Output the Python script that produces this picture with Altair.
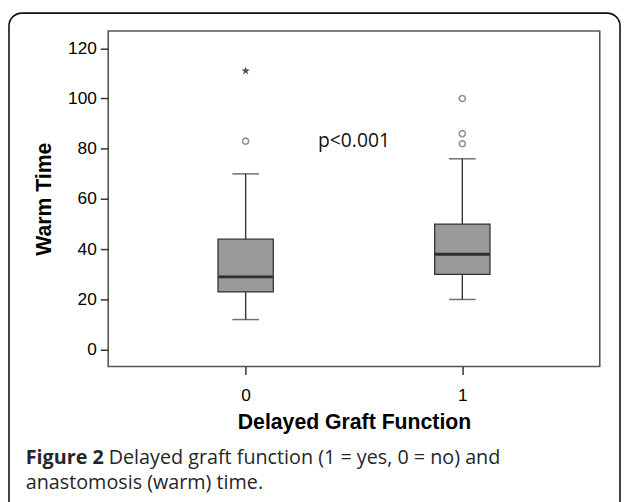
import altair as alt
import pandas as pd

# ---- data ----
groups = [0, 1]
whisker_low = [12, 20]
q1 = [23, 30]
median = [29, 38]
q3 = [44, 50]
whisker_high = [70, 76]

outlier_group = [0, 1, 1, 1]
outlier_value = [83, 100, 86, 82]

extreme_group = [0]
extreme_value = [111]

annotation_text = ["p<0.001"]
annotation_x = [0.5]
annotation_y = [83]

caption_bold = ["Figure 2"]
caption_line1 = ["Delayed graft function (1 = yes, 0 = no) and"]
caption_line2 = ["anastomosis (warm) time."]

box_df = pd.DataFrame({"g": groups, "lo": whisker_low, "q1": q1, "med": median,
                       "q3": q3, "hi": whisker_high})
out_df = pd.DataFrame({"g": outlier_group, "v": outlier_value})
ext_df = pd.DataFrame({"g": extreme_group, "v": extreme_value})
ann_df = pd.DataFrame({"g": annotation_x, "v": annotation_y, "t": annotation_text})

STAR = ("M0,-1L0.2245,-0.309L0.951,-0.309L0.363,0.118L0.588,0.809L0,0.382"
        "L-0.588,0.809L-0.363,0.118L-0.951,-0.309L-0.2245,-0.309Z")

xscale = alt.Scale(domain=[-0.6116, 1.6116], nice=False, zero=False)
yscale = alt.Scale(domain=[-6.7, 126.9], nice=False, zero=False)

X_axis = alt.Axis(values=[0, 1], format="d", title="Delayed Graft Function",
                  grid=False, labelFontSize=17.5, titleFontSize=21.5,
                  titleFontWeight="bold", tickSize=8, labelPadding=12,
                  titlePadding=8, domain=False, tickColor="#333",
                  labelColor="#000", titleColor="#000", tickWidth=1.5,
                  orient="bottom")
Y_axis = alt.Axis(values=[0, 20, 40, 60, 80, 100, 120], title="Warm Time",
                  grid=False, labelFontSize=17.5, titleFontSize=21.5,
                  titleFontWeight="bold", tickSize=8, labelPadding=4,
                  titlePadding=12, domain=False, tickColor="#333",
                  labelColor="#000", titleColor="#000", tickWidth=1.5,
                  orient="left")

def xenc(f="g"):
    return alt.X(f + ":Q", scale=xscale, axis=X_axis)

def yenc(f):
    return alt.Y(f + ":Q", scale=yscale, axis=Y_axis)

base = alt.Chart(box_df)

whisk = base.mark_rule(color="#333", strokeWidth=1.4).encode(
    x=xenc(), y=yenc("lo"), y2="hi:Q")
caps_lo = base.mark_tick(orient="horizontal", color="#333", size=27, thickness=1.5).encode(
    x=xenc(), y=yenc("lo"))
caps_hi = base.mark_tick(orient="horizontal", color="#333", size=27, thickness=1.5).encode(
    x=xenc(), y=yenc("hi"))
box = base.mark_bar(size=56, color="#999999", stroke="#333", strokeWidth=1.3).encode(
    x=xenc(), y=yenc("q1"), y2="q3:Q")
med = base.mark_tick(orient="horizontal", color="#000", size=55, thickness=3).encode(
    x=xenc(), y=yenc("med"))

outl = alt.Chart(out_df).mark_point(shape="circle", filled=False, color="#666",
                                    size=38, strokeWidth=1.6).encode(
    x=xenc(), y=yenc("v"))
ext = alt.Chart(ext_df).mark_point(shape=STAR, filled=True, color="#000", size=80).encode(
    x=xenc(), y=yenc("v"))

ann = alt.Chart(ann_df).mark_text(font="Open Sans", fontSize=19.5, color="#111",
                                  align="center", baseline="middle").encode(
    x=xenc(), y=yenc("v"), text="t:N")

# outer rounded figure frame (decoration)
frame = alt.Chart(pd.DataFrame({"a": [0]})).mark_rect(
    fill=None, stroke="#111", strokeWidth=1.6, cornerRadius=13).encode(
    x=alt.value(-100.5), x2=alt.value(518.5), y=alt.value(-18), y2=alt.value(490))

cap_b = alt.Chart(pd.DataFrame({"t": caption_bold})).mark_text(
    font="Open Sans", fontSize=20, fontWeight="bold", align="left", baseline="alphabetic",
    color="#262626").encode(x=alt.value(-83.5), y=alt.value(439), text="t:N")
cap_1 = alt.Chart(pd.DataFrame({"t": caption_line1})).mark_text(
    font="Open Sans", fontSize=20, align="left", baseline="alphabetic",
    color="#262626").encode(x=alt.value(0.5), y=alt.value(439), text="t:N")
cap_2 = alt.Chart(pd.DataFrame({"t": caption_line2})).mark_text(
    font="Open Sans", fontSize=20, align="left", baseline="alphabetic",
    color="#262626").encode(x=alt.value(-83.5), y=alt.value(464), text="t:N")

chart = alt.layer(frame, whisk, caps_lo, caps_hi, box, med, outl, ext, ann,
                  cap_b, cap_1, cap_2).properties(
    width=498, height=340,
    autosize=alt.AutoSizeParams(type="none"),
    padding={"left": 101.5, "top": 20, "right": 21.5, "bottom": 134},
).configure(font="Liberation Sans").configure_view(
    stroke="#555", strokeWidth=1.6
)

chart.save("out.html", embed_options={"renderer": "svg", "actions": False})
